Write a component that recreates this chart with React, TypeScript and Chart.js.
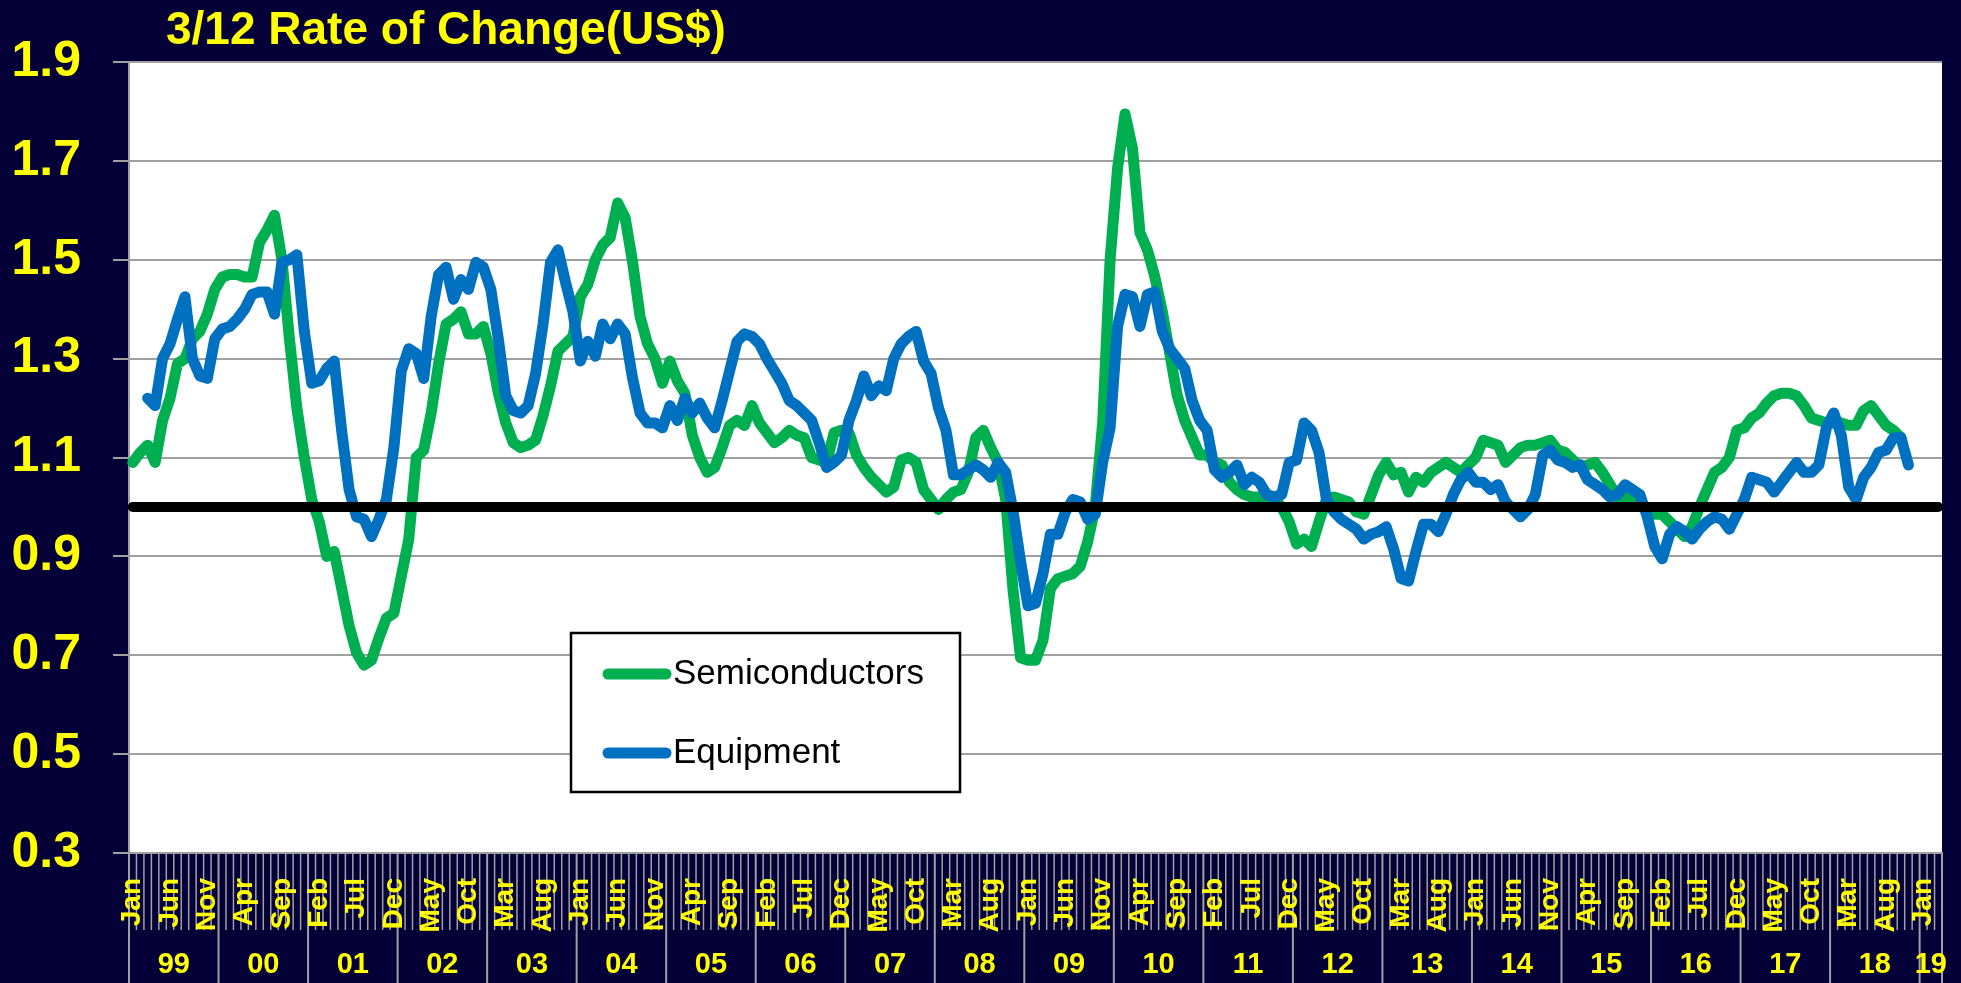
import { useEffect, useRef } from 'react';
import { Chart, registerables } from 'chart.js';

Chart.register(...registerables);

// ---------------- data ----------------
const TITLE = '3/12 Rate of Change(US$)';
const MONTHS = ['Jan', 'Feb', 'Mar', 'Apr', 'May', 'Jun', 'Jul', 'Aug', 'Sep', 'Oct', 'Nov', 'Dec'];
const YEAR_LABELS = ['99', '00', '01', '02', '03', '04', '05', '06', '07', '08', '09', '10', '11', '12', '13', '14', '15', '16', '17', '18', '19'];
const MONTHS_IN_LAST_YEAR = 3;
const MONTH_LABEL_STEP = 5;
const Y_MIN = 0.3;
const Y_MAX = 1.9;
const Y_STEP = 0.2;
const PAR_LEVEL = 1.0;
const SERIES_NAMES = ['Semiconductors', 'Equipment'];

// Monthly, Jan 1999 onward (one row per year)
const semiconductors = [
  1.09, 1.11, 1.125, 1.09, 1.175, 1.22, 1.29, 1.30, 1.34, 1.355, 1.39, 1.44,
  1.465, 1.47, 1.47, 1.465, 1.465, 1.535, 1.56, 1.59, 1.50, 1.34, 1.20, 1.10,
  1.015, 0.97, 0.90, 0.91, 0.835, 0.76, 0.705, 0.68, 0.69, 0.735, 0.775, 0.785,
  0.86, 0.935, 1.10, 1.115, 1.19, 1.29, 1.37, 1.38, 1.395, 1.35, 1.35, 1.365,
  1.31, 1.23, 1.17, 1.13, 1.12, 1.125, 1.135, 1.185, 1.245, 1.315, 1.33, 1.345,
  1.425, 1.45, 1.50, 1.53, 1.545, 1.615, 1.585, 1.495, 1.385, 1.33, 1.30, 1.25,
  1.295, 1.255, 1.23, 1.145, 1.10, 1.07, 1.08, 1.12, 1.165, 1.175, 1.165, 1.205,
  1.17, 1.15, 1.13, 1.14, 1.155, 1.145, 1.14, 1.10, 1.095, 1.09, 1.15, 1.155,
  1.15, 1.105, 1.08, 1.06, 1.045, 1.03, 1.04, 1.095, 1.10, 1.09, 1.035, 1.015,
  0.995, 1.015, 1.03, 1.035, 1.07, 1.14, 1.155, 1.12, 1.09, 1.015, 0.83, 0.695,
  0.69, 0.69, 0.73, 0.835, 0.855, 0.86, 0.865, 0.88, 0.93, 1.00, 1.17, 1.50,
  1.685, 1.795, 1.725, 1.555, 1.52, 1.465, 1.395, 1.31, 1.225, 1.175, 1.14, 1.105,
  1.105, 1.09, 1.085, 1.05, 1.035, 1.025, 1.02, 1.02, 1.02, 1.015, 1.00, 0.97,
  0.925, 0.935, 0.92, 0.97, 1.015, 1.02, 1.015, 1.01, 0.99, 0.985, 1.025, 1.065,
  1.09, 1.065, 1.07, 1.03, 1.06, 1.05, 1.07, 1.08, 1.09, 1.08, 1.07, 1.085,
  1.10, 1.135, 1.13, 1.125, 1.09, 1.105, 1.12, 1.125, 1.125, 1.13, 1.135, 1.115,
  1.11, 1.095, 1.08, 1.085, 1.09, 1.07, 1.045, 1.02, 1.02, 1.015, 1.01, 0.99,
  0.985, 0.985, 0.97, 0.955, 0.94, 0.96, 1.00, 1.035, 1.07, 1.08, 1.10, 1.155,
  1.16, 1.18, 1.19, 1.21, 1.225, 1.23, 1.23, 1.225, 1.205, 1.18, 1.175, 1.17,
  1.17, 1.17, 1.165, 1.165, 1.195, 1.205, 1.185, 1.165, 1.155, 1.14,
];

const equipment = [
  null, null, 1.22, 1.205, 1.30, 1.33, 1.38, 1.425, 1.30, 1.265, 1.26, 1.34,
  1.36, 1.365, 1.38, 1.40, 1.43, 1.435, 1.435, 1.39, 1.495, 1.50, 1.51, 1.355,
  1.25, 1.255, 1.28, 1.295, 1.155, 1.035, 0.98, 0.975, 0.94, 0.975, 1.015, 1.12,
  1.275, 1.32, 1.31, 1.26, 1.385, 1.47, 1.485, 1.42, 1.46, 1.44, 1.495, 1.485,
  1.44, 1.34, 1.225, 1.195, 1.19, 1.205, 1.27, 1.37, 1.495, 1.52, 1.455, 1.395,
  1.295, 1.335, 1.305, 1.37, 1.34, 1.37, 1.35, 1.26, 1.19, 1.17, 1.17, 1.16,
  1.205, 1.175, 1.22, 1.19, 1.21, 1.18, 1.16, 1.215, 1.275, 1.335, 1.35, 1.345,
  1.33, 1.30, 1.275, 1.25, 1.215, 1.205, 1.19, 1.175, 1.13, 1.08, 1.09, 1.105,
  1.175, 1.215, 1.265, 1.225, 1.245, 1.235, 1.30, 1.33, 1.345, 1.355, 1.295, 1.27,
  1.20, 1.155, 1.065, 1.065, 1.075, 1.085, 1.075, 1.06, 1.09, 1.07, 0.99, 0.89,
  0.80, 0.805, 0.865, 0.945, 0.945, 0.99, 1.015, 1.01, 0.975, 0.985, 1.09, 1.16,
  1.365, 1.43, 1.425, 1.365, 1.43, 1.435, 1.355, 1.32, 1.30, 1.28, 1.215, 1.175,
  1.155, 1.075, 1.06, 1.07, 1.085, 1.045, 1.06, 1.05, 1.025, 1.02, 1.025, 1.09,
  1.095, 1.17, 1.155, 1.11, 1.015, 0.99, 0.975, 0.965, 0.955, 0.935, 0.945, 0.95,
  0.96, 0.915, 0.855, 0.85, 0.91, 0.965, 0.965, 0.95, 0.985, 1.025, 1.055, 1.07,
  1.05, 1.05, 1.035, 1.045, 1.01, 0.995, 0.98, 0.995, 1.025, 1.105, 1.115, 1.095,
  1.09, 1.08, 1.085, 1.055, 1.045, 1.035, 1.02, 1.025, 1.045, 1.035, 1.025, 0.98,
  0.92, 0.895, 0.945, 0.96, 0.95, 0.935, 0.955, 0.97, 0.98, 0.975, 0.955, 0.985,
  1.015, 1.06, 1.055, 1.05, 1.03, 1.05, 1.07, 1.09, 1.07, 1.07, 1.085, 1.16,
  1.19, 1.145, 1.04, 1.015, 1.06, 1.08, 1.11, 1.115, 1.14, 1.14, 1.085,
];

// categories built from the month / year lists
const categories: string[] = [];
YEAR_LABELS.forEach((yy, yi) => {
  const n = yi === YEAR_LABELS.length - 1 ? MONTHS_IN_LAST_YEAR : 12;
  for (let m = 0; m < n; m++) categories.push(`${MONTHS[m]} ${yy}`);
});

// ---------------- style ----------------
const W = 1961;
const H = 983;
const NAVY = '#050038';
const YELLOW = '#FFFF00';
const GRID = '#A0A0A0';
const GREEN = '#00B050';
const BLUE = '#0070C0';
const FONT = "'Liberation Sans', Arial, Helvetica, sans-serif";

const decorPlugin = {
  id: 'decor',
  beforeDraw(chart: any) {
    const { ctx, chartArea: a, scales } = chart;
    const x = scales.x;
    const n = categories.length;
    ctx.save();
    ctx.fillStyle = NAVY;
    ctx.fillRect(0, 0, chart.width, chart.height);
    ctx.fillStyle = '#FFFFFF';
    ctx.fillRect(a.left, a.top, a.right - a.left, a.bottom - a.top);

    const half = (x.getPixelForValue(1) - x.getPixelForValue(0)) / 2;
    ctx.strokeStyle = GRID;
    for (let k = 0; k <= n; k++) {
      const px = k < n ? x.getPixelForValue(k) - half : x.getPixelForValue(n - 1) + half;
      const isYear = k % 12 === 0 || k === n;
      ctx.lineWidth = isYear ? 2 : 1.5;
      ctx.beginPath();
      ctx.moveTo(px, a.bottom);
      ctx.lineTo(px, isYear ? chart.height : a.bottom + 77);
      ctx.stroke();
    }

    ctx.fillStyle = YELLOW;
    ctx.font = `bold 29px ${FONT}`;
    ctx.textAlign = 'center';
    ctx.textBaseline = 'middle';
    YEAR_LABELS.forEach((yy, yi) => {
      const first = yi * 12;
      const last = Math.min(first + 11, n - 1);
      const cx = (x.getPixelForValue(first) + x.getPixelForValue(last)) / 2;
      ctx.fillText(yy, cx, a.bottom + 112);
    });
    ctx.restore();
  },
  afterDatasetsDraw(chart: any) {
    const { ctx, scales } = chart;
    const y = scales.y.getPixelForValue(PAR_LEVEL);
    const x0 = scales.x.getPixelForValue(0);
    const x1 = scales.x.getPixelForValue(categories.length - 1);
    ctx.save();
    ctx.strokeStyle = '#000000';
    ctx.lineWidth = 10;
    ctx.lineCap = 'round';
    ctx.beginPath();
    ctx.moveTo(x0, y);
    ctx.lineTo(x1, y);
    ctx.stroke();
    ctx.restore();
  },
  afterDraw(chart: any) {
    const { ctx } = chart;
    ctx.save();
    // title
    ctx.fillStyle = YELLOW;
    ctx.font = `bold 46px ${FONT}`;
    ctx.textAlign = 'left';
    ctx.textBaseline = 'alphabetic';
    ctx.fillText(TITLE, 166, 44);

    // legend
    const bx = 571, by = 633, bw = 389, bh = 159;
    ctx.fillStyle = '#FFFFFF';
    ctx.fillRect(bx, by, bw, bh);
    ctx.strokeStyle = '#000000';
    ctx.lineWidth = 2.5;
    ctx.strokeRect(bx, by, bw, bh);
    const rows = [
      { name: SERIES_NAMES[0], color: GREEN, y: 674 },
      { name: SERIES_NAMES[1], color: BLUE, y: 753 },
    ];
    ctx.font = `35px ${FONT}`;
    ctx.textBaseline = 'alphabetic';
    rows.forEach((r) => {
      ctx.strokeStyle = r.color;
      ctx.lineWidth = 11;
      ctx.lineCap = 'round';
      ctx.beginPath();
      ctx.moveTo(608, r.y);
      ctx.lineTo(666, r.y);
      ctx.stroke();
      ctx.fillStyle = '#000000';
      ctx.fillText(r.name, 673, r.y + 10);
    });
    ctx.restore();
  },
};

export default function App() {
  const ref = useRef<HTMLCanvasElement>(null);
  useEffect(() => {
    document.body.style.margin = '0';
    document.body.style.background = NAVY;
    const lineCommon = {
      borderWidth: 11,
      pointRadius: 0,
      pointHoverRadius: 0,
      tension: 0,
      borderJoinStyle: 'round' as const,
      borderCapStyle: 'round' as const,
      spanGaps: false,
      fill: false,
    };
    const chart = new Chart(ref.current as HTMLCanvasElement, {
      type: 'line',
      data: {
        labels: categories,
        datasets: [
          { ...lineCommon, label: SERIES_NAMES[0], data: semiconductors, borderColor: GREEN, backgroundColor: GREEN, order: 2 },
          { ...lineCommon, label: SERIES_NAMES[1], data: equipment as any, borderColor: BLUE, backgroundColor: BLUE, order: 1 },
        ],
      },
      options: {
        responsive: false,
        animation: false,
        devicePixelRatio: 1,
        layout: { padding: { top: 62, right: 19, left: 0, bottom: 0 } },
        plugins: {
          legend: { display: false },
          tooltip: { enabled: false },
          title: { display: false },
        },
        scales: {
          x: {
            type: 'category',
            offset: true,
            grid: { display: false },
            border: { display: true, color: GRID, width: 2 },
            ticks: {
              autoSkip: false,
              minRotation: 90,
              maxRotation: 90,
              padding: 17,
              color: YELLOW,
              font: { family: FONT, size: 28, weight: 'bold' },
              callback: (_v: any, i: number) => (i % MONTH_LABEL_STEP === 0 ? MONTHS[i % 12] : ''),
            },
            afterFit: (s: any) => {
              s.height = 130;
              s.paddingLeft = 0;
              s.paddingRight = 0;
            },
          },
          y: {
            min: Y_MIN,
            max: Y_MAX,
            ticks: {
              stepSize: Y_STEP,
              padding: 32,
              color: YELLOW,
              font: { family: FONT, size: 50, weight: 'bold' },
              callback: (v: any) => Number(v).toFixed(1),
            },
            grid: { color: GRID, lineWidth: 2, drawTicks: true, tickLength: 16, tickColor: GRID, tickWidth: 2 },
            border: { display: true, color: GRID, width: 2 },
            afterFit: (s: any) => {
              s.width = 129;
              s.paddingTop = 0;
              s.paddingBottom = 0;
            },
          },
        },
      } as any,
      plugins: [decorPlugin],
    });
    return () => chart.destroy();
  }, []);
  return (
    <div style={{ width: W, height: H, background: NAVY, overflow: 'hidden' }}>
      <canvas ref={ref} width={W} height={H} style={{ display: 'block', width: W, height: H }} />
    </div>
  );
}
